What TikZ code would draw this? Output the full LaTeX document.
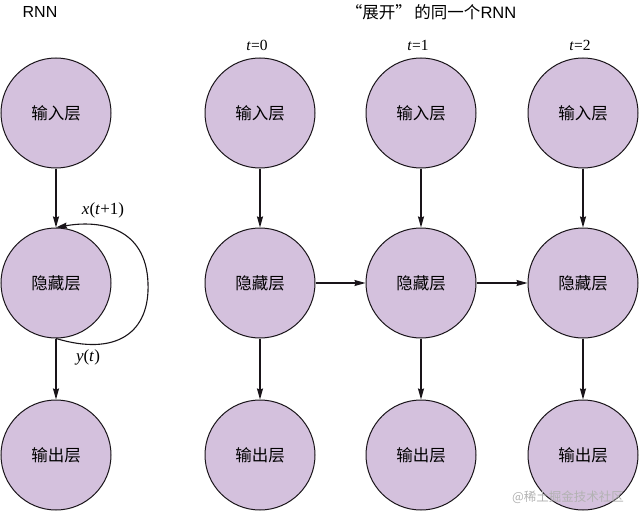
\documentclass[tikz,border=0pt]{standalone}
\usepackage{fontspec}
\setmainfont{Liberation Serif}
\newfontfamily\cjk{Noto Sans CJK SC}
\newfontfamily\lsans{Liberation Sans}
\usetikzlibrary{arrows.meta}
\definecolor{cfill}{RGB}{212,193,221}
\definecolor{cline}{RGB}{25,20,25}
\tikzset{
  layer/.style={circle, draw=cline, line width=1pt, fill=cfill, minimum size=110pt, inner sep=0pt, font=\cjk\fontsize{16.5}{16.5}\selectfont},
  conn/.style={draw=cline, line width=1.1pt, -{Stealth[length=11pt,width=6pt,inset=1pt]}},
  tlabel/.style={font=\fontsize{15.5}{15.5}\selectfont},
  llabel/.style={font=\fontsize{17}{17}\selectfont},
}
\begin{document}
\begin{tikzpicture}[x=1pt,y=-1pt]
\useasboundingbox (0,0) rectangle (640,511);
% titles
\node[font=\lsans\fontsize{16}{16}\selectfont] (tl) at (40,12) {RNN};
\node[font=\fontsize{16.5}{16.5}\selectfont] (tr) at (431,12) {{\cjk “展开”\,的同一个}{\lsans RNN}};
% left RNN
\node[layer] (i0) at (56,113) {输入层};
\node[layer] (h0) at (56,283) {隐藏层};
\node[layer] (o0) at (56,455) {输出层};
\draw[conn] (i0) -- (h0);
\draw[conn] (h0) -- (o0);
\draw[conn] (h0.south) .. controls +(60,18) and +(2,50) .. ([xshift=92pt]h0.center) .. controls +(-2,-55) and +(45,-8) .. (h0.north);
\node[llabel] (lx) at (103,210) {\textit{x}(\textit{t}+1)};
\node[llabel] (ly) at (88,357) {\textit{y}(\textit{t})};
% unrolled
\foreach \n/\x/\t in {1/260/0,2/421/1,3/583/2}{
  \node[tlabel] (t\n) at (\x-3,45) {\textit{t}=\t};
  \node[layer] (i\n) at (\x,113) {输入层};
  \node[layer] (h\n) at (\x,283) {隐藏层};
  \node[layer] (o\n) at (\x,455) {输出层};
  \draw[conn] (i\n) -- (h\n);
  \draw[conn] (h\n) -- (o\n);
}
\draw[conn] (h1) -- (h2);
\draw[conn] (h2) -- (h3);
% watermark
\node[font=\cjk\fontsize{12.5}{12.5}\selectfont, text=black!30] (wm) at (568,497) {@稀土掘金技术社区};
\end{tikzpicture}
\end{document}
